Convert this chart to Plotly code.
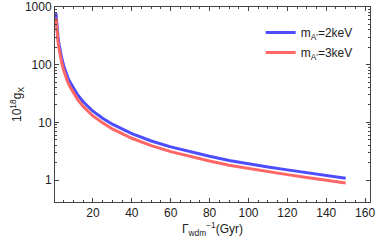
import plotly.graph_objects as go

x_gyr = [1, 1.25, 1.5, 1.75, 2, 2.5, 3, 3.5, 4, 5, 6, 7, 8, 10, 12, 15, 20, 25, 30, 40, 50, 60, 70, 80, 90, 100, 110, 120, 130, 140, 150]
g_2kev = [780, 582, 457, 373, 315, 234, 186, 150, 128, 95, 75, 61, 51.5, 38.5, 30.5, 22.8, 15.6, 11.8, 9.3, 6.4, 4.75, 3.75, 3.08, 2.58, 2.18, 1.9, 1.68, 1.5, 1.34, 1.2, 1.07]
g_3kev = [645, 482, 378, 309, 261, 194, 154, 124, 106, 79, 62, 50.5, 42.7, 32, 25.3, 18.9, 12.9, 9.8, 7.7, 5.3, 3.94, 3.11, 2.55, 2.14, 1.81, 1.58, 1.39, 1.24, 1.11, 1.0, 0.89]
y_ticks = [1, 10, 100, 1000]
y_minor = [m * d for d in (1, 10, 100) for m in range(2, 10)]

names = ["m<sub>A'</sub>=2keV", "m<sub>A'</sub>=3keV"]
colors = ["#4d4dff", "#ff6666"]
legends = ["legend", "legend2"]

fig = go.Figure()
for y, n, c, lg in zip([g_2kev, g_3kev], names, colors, legends):
    fig.add_trace(go.Scatter(x=x_gyr, y=y, mode="lines", name=n, legend=lg,
                             line=dict(color=c, width=3)))

font = dict(family="Liberation Sans, Arial", size=12, color="#222")
leg_common = dict(xanchor="left", yanchor="top", bgcolor="rgba(0,0,0,0)",
                  font=dict(size=12), itemwidth=30)
fig.update_layout(
    width=382, height=244,
    margin=dict(l=55, r=12, t=7, b=42),
    plot_bgcolor="white", paper_bgcolor="white",
    font=font,
    showlegend=True,
    legend=dict(x=0.653, y=0.944, **leg_common),
    legend2=dict(x=0.653, y=0.841, **leg_common),
    xaxis=dict(range=[0.5, 162.5], tickvals=[20, 40, 60, 80, 100, 120, 140, 160],
               ticks="inside", ticklen=4, tickcolor="#444", showgrid=False,
               showline=True, linecolor="#444", linewidth=1, mirror="ticks",
               zeroline=False, automargin=False,
               minor=dict(dtick=5, tick0=0, ticks="inside", ticklen=2, tickcolor="#444"),
               title=dict(text="Γ<sub>wdm</sub><sup>−1</sup>(Gyr)", standoff=4,
                          font=dict(size=12))),
    yaxis=dict(type="log", range=[-0.381, 3.0], tickvals=y_ticks,
               ticktext=[str(v) for v in y_ticks],
               ticks="inside", ticklen=4, tickcolor="#444", showgrid=False,
               showline=True, linecolor="#444", linewidth=1, mirror="ticks",
               zeroline=False, automargin=False,
               minor=dict(tickvals=y_minor, ticks="inside", ticklen=2,
                          tickcolor="#444", showgrid=False),
               title=dict(text="10<sup>18</sup>g<sub>X</sub>", standoff=0,
                          font=dict(size=12))),
)

fig.write_html("out.html", config={"displayModeBar": False},
               post_script="document.body.style.margin='0';")
